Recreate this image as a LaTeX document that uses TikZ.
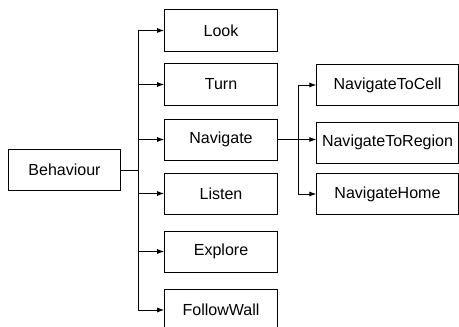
\documentclass[tikz,border=0pt]{standalone}
\usepackage{fontspec}
\setmainfont{Liberation Sans}
\usepackage{tikz}
\usetikzlibrary{arrows.meta}

\tikzset{
    box/.style={draw, line width=0.7pt, inner sep=0pt, minimum width=2.8125cm, minimum height=1.025cm},
    wide/.style={box, minimum width=3.525cm},
    link/.style={line width=0.7pt},
    arr/.style={link, -{Latex[length=5pt,width=3.5pt]}}
}

\begin{document}
\begin{tikzpicture}[x=0.025cm, y=-0.025cm, font=\fontsize{11.4}{13.7}\selectfont]
        \useasboundingbox (0,0) rectangle (459,327);

        % root
        \node[box, minimum height=1.0125cm] (beh) at (64.5,170) {Behaviour};

        % behaviours
        \node[box] (look) at (221,30.5) {Look};
        \node[box] (turn) at (221,84.5) {Turn};
        \node[box] (nav) at (221,139.5) {Navigate};
        \node[box] (listen) at (221,193.5) {Listen};
        \node[box] (explore) at (221,251.5) {Explore};
        \node[box] (follow) at (221,310) {FollowWall};

        % navigation
        \node[wide] (cell) at (387.5,85) {NavigateToCell};
        \node[wide] (region) at (387.5,142.5) {NavigateToRegion};
        \node[wide] (home) at (387.5,194) {NavigateHome};

        \coordinate (trunk) at (138,170);
        \coordinate (branch) at (298,139.5);

        \draw[link] (beh.east) -- (trunk |- beh.east);
        \draw[link] (trunk |- look.west) -- (trunk |- follow.west);
        \foreach \n in {look,turn,nav,listen,explore,follow}
            \draw[arr] (trunk |- \n.west) -- (\n.west);

        \draw[link] (branch |- cell.west) -- (branch |- home.west);
        \draw[arr] (nav.east) -- (region.west |- nav.east);
        \draw[arr] (branch |- cell.west) -- (cell.west);
        \draw[arr] (branch |- home.west) -- (home.west);
    \end{tikzpicture}
\end{document}
